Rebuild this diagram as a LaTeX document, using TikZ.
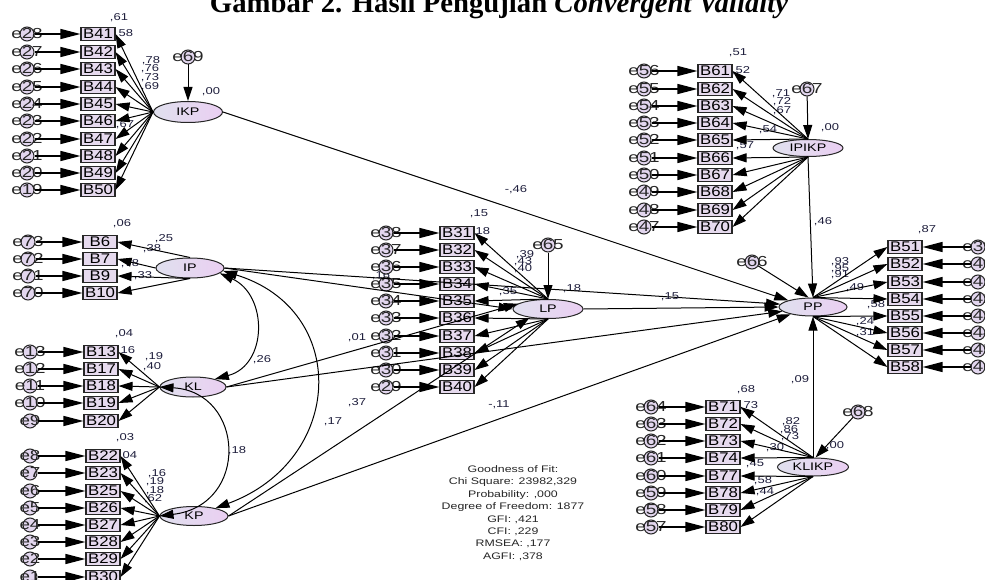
\documentclass[tikz,border=0pt]{standalone}
\usepackage{fontspec}
\setmainfont{Liberation Serif}
\newfontfamily\amos[FakeStretch=1.3]{Liberation Sans}
\newfontfamily\amosB[FakeStretch=1.2]{Liberation Sans}
\usetikzlibrary{arrows.meta,shapes.geometric}
\definecolor{latL}{HTML}{E0E0EE}
\definecolor{latR}{HTML}{EACFF2}
\definecolor{boxfill}{HTML}{E6DAEE}
\definecolor{efill}{HTML}{E2D6EE}
\definecolor{lbl}{HTML}{1E1E3C}
\begin{document}
\begin{tikzpicture}[x=1pt,y=-1pt,
  box/.style={draw=black!85, line width=1.1pt, fill=boxfill, minimum width=34pt, minimum height=12.5pt, inner sep=0pt, font=\amosB\fontsize{14}{14}\selectfont},
  lat/.style={ellipse, draw=black!85, line width=1pt, left color=latL, right color=latR, inner sep=0pt, font=\amos\fontsize{11}{11}\selectfont},
  ecirc/.style={circle, draw=black!85, line width=1pt, fill=efill, minimum size=14pt, inner sep=0pt},
  etxt/.style={font=\amos\fontsize{14.5}{14.5}\selectfont, text=black!85, inner sep=0pt},
  lab/.style={font=\amos\fontsize{10}{10}\selectfont, text=lbl, inner sep=0pt},
  arr/.style={-{Triangle[length=14pt,width=9pt]}, line width=1pt},
  harr/.style={-{Triangle[length=20pt,width=10pt]}, line width=1.3pt},
  cov/.style={{Triangle[length=14pt,width=9pt]}-{Triangle[length=14pt,width=9pt]}, line width=1pt},
  gof/.style={font=\amos\fontsize{9.5}{12.4}\selectfont, align=center, inner sep=0pt, text=black!85}
]
\useasboundingbox (0,0) rectangle (985,580);
\clip (0,0) rectangle (985,580);
\fill[white] (0,0) rectangle (985,580);

% title (cut at top)
\node[anchor=base, inner sep=0pt] (title) at (499,12.5) {\fontsize{28.7}{30}\selectfont\bfseries Gambar 2. Hasil Pengujian \itshape Convergent Validity};

% latent variables
\node[lat, minimum width=69pt, minimum height=21pt] (IKP) at (188,112) {IKP};
\node[lat, minimum width=68pt, minimum height=20pt] (IP) at (190,268) {IP};
\node[lat, minimum width=66pt, minimum height=20pt] (KL) at (193,387) {KL};
\node[lat, minimum width=68pt, minimum height=19pt] (KP) at (194,516) {KP};
\node[lat, minimum width=70pt, minimum height=19pt] (LP) at (548,309) {LP};
\node[lat, minimum width=68pt, minimum height=18pt] (PP) at (813,307) {PP};
\node[lat, minimum width=70pt, minimum height=17pt] (IPIKP) at (808,148) {IPIKP};
\node[lat, minimum width=71pt, minimum height=18pt] (KLIKP) at (813,467) {KLIKP};

% latent error terms
\foreach \n/\xx/\yy in {69/188/57, 65/548/245, 67/807/89, 68/858/412, 66/752/262} {
  \node[ecirc] (e\n) at (\xx,\yy) {};
  \node[etxt] (te\n) at (e\n) {e\n};
}

% estimate labels (drawn under the arrows)
\foreach \xx/\yy/\t [count=\i] in {
  119/18/61, 124/34/58, 151/61/78, 150/69/76, 150/78/73, 150/87/69, 125/125/67,
  122/224/06, 164/239/25, 152/249/38, 130/264/78, 143/276/33,
  124/334/04, 126/351/16, 154/357/19, 152/367/40,
  125/438/03, 128/456/04, 157/474/16, 155/482/19, 155/491/18, 153/499/62,
  479/214/15, 481/232/18, 525/255/39, 523/262/43, 523/269/40, 508/292/35, 381/276/16,
  738/53/51, 741/71/52, 781/94/71, 782/102/72, 782/111/67, 768/130/54, 745/146/57,
  746/390/68, 749/406/73, 791/422/82, 789/430/86, 790/437/73, 775/448/30, 755/464/45, 763/481/58, 765/492/44,
  927/230/87, 840/262/93, 840/269/95, 840/275/91, 855/288/49, 876/305/58, 865/322/24, 865/333/31,
  211/92/00, 572/289/18, 830/128/00, 835/446/00}
  \node[lab] (r\i) at (\xx,\yy) {,\t};

% IKP cluster
\foreach \bn/\yy/\en in {41/34/28, 42/52/27, 43/69/26, 44/87/25, 45/104/24, 46/121/23, 47/139/22, 48/156/21, 49/173/20, 50/190/19} {
  \node[box] (B\bn) at (98,\yy) {B\bn};
  \node[ecirc] (e\en) at (27,\yy) {};
  \node[etxt] (te\en) at (e\en) {e\en};
  \draw[harr] (e\en) -- (B\bn);
  \draw[arr] (IKP.west) -- (B\bn.east);
}
% IP cluster
\foreach \bn/\yy/\en/\an in {6/242/73/north, 7/259/72/west, 9/276/71/south, 10/293/70/south} {
  \node[box] (B\bn) at (100,\yy) {B\bn};
  \node[ecirc] (e\en) at (28,\yy) {};
  \node[etxt] (te\en) at (e\en) {e\en};
  \draw[harr] (e\en) -- (B\bn);
  \draw[arr] (IP.\an) -- (B\bn.east);
}
% KL cluster
\foreach \bn/\yy/\en in {13/352/13, 17/369/12, 18/386/11, 19/403/10, 20/421/9} {
  \node[box] (B\bn) at (101,\yy) {B\bn};
  \node[ecirc] (e\en) at (30,\yy) {};
  \node[etxt] (te\en) at (e\en) {e\en};
  \draw[harr] (e\en) -- (B\bn);
  \draw[arr] (KL.west) -- (B\bn.east);
}
% KP cluster
\foreach \bn/\yy/\en in {22/456/8, 23/473/7, 25/491/6, 26/508/5, 27/525/4, 28/542/3, 29/559/2, 30/577/1} {
  \node[box] (B\bn) at (103,\yy) {B\bn};
  \node[ecirc] (e\en) at (30,\yy) {};
  \node[etxt] (te\en) at (e\en) {e\en};
  \draw[harr] (e\en) -- (B\bn);
  \draw[arr] (KP.west) -- (B\bn.east);
}
% LP cluster
\foreach \bn/\yy/\en/\an in {31/233/38/north, 32/250/37/north, 33/267/36/north, 34/284/35/north, 35/301/34/north, 36/318/33/south, 37/336/32/south, 38/353/31/south, 39/370/30/south, 40/387/29/south} {
  \node[box] (B\bn) at (457,\yy) {B\bn};
  \node[ecirc] (e\en) at (386,\yy) {};
  \node[etxt] (te\en) at (e\en) {e\en};
  \draw[harr] (e\en) -- (B\bn);
  \draw[arr] (LP.\an) -- (B\bn.east);
}
% IPIKP cluster
\foreach \bn/\yy/\en/\an in {61/71/56/north, 62/89/55/north, 63/106/54/north, 64/123/53/north, 65/140/52/north, 66/158/51/south, 67/175/50/south, 68/192/49/south, 69/210/48/south, 70/227/47/south} {
  \node[box] (B\bn) at (715,\yy) {B\bn};
  \node[ecirc] (e\en) at (644,\yy) {};
  \node[etxt] (te\en) at (e\en) {e\en};
  \draw[harr] (e\en) -- (B\bn);
  \draw[arr] (IPIKP.\an) -- (B\bn.east);
}
% KLIKP cluster
\foreach \bn/\yy/\en/\an in {71/407/64/north, 72/424/63/north, 73/441/62/north, 74/458/61/north, 77/476/60/south, 78/493/59/south, 79/510/58/south, 80/527/57/south} {
  \node[box] (B\bn) at (723,\yy) {B\bn};
  \node[ecirc] (e\en) at (651,\yy) {};
  \node[etxt] (te\en) at (e\en) {e\en};
  \draw[harr] (e\en) -- (B\bn);
  \draw[arr] (KLIKP.\an) -- (B\bn.east);
}
% PP cluster
\foreach \bn/\yy/\en/\an in {51/247/39/north, 52/264/40/north, 53/282/41/north, 54/299/42/north, 55/316/43/south, 56/333/44/south, 57/350/45/south, 58/367/46/south} {
  \node[box] (B\bn) at (905,\yy) {B\bn};
  \node[ecirc] (e\en) at (978,\yy) {};
  \node[etxt] (te\en) at (e\en) {e\en};
  \draw[harr] (e\en) -- (B\bn);
  \draw[arr] (PP.\an) -- (B\bn.west);
}

% error arrows to latents
\draw[arr] (e69) -- (IKP.north);
\draw[arr] (e65) -- (LP.north);
\draw[arr] (e67) -- (IPIKP.north);
\draw[arr] (e68) -- (KLIKP.75);
\draw[arr] (e66) -- (PP.115);

% structural paths
\draw[arr] (IKP.east) -- (PP.165);
\draw[arr] (IP.east) -- (LP.west);
\draw[arr] (IP.east) -- (PP.175);
\draw[arr] (KL.east) -- (LP.170);
\draw[arr] (KL.east) -- (PP.188);
\draw[arr] (KP.east) -- (LP.205);
\draw[arr] (KP.east) -- (PP.198);
\draw[arr] (LP.east) -- (PP.west);
\draw[arr] (IPIKP.south) -- (PP.north);
\draw[arr] (KLIKP.north) -- (PP.south);

% covariances
\draw[cov] (IP.-10) .. controls (268,295) and (268,365) .. (KL.20);
\draw[cov] (KL.west) .. controls (245,392) and (250,505) .. (KP.west);
\draw[cov] (IP.-5) .. controls (350,310) and (345,460) .. (KP.20);

% path labels
\node[lab] (p1) at (516,190) {-,46};
\node[lab] (p2) at (670,297) {,15};
\node[lab] (p3) at (823,222) {,46};
\node[lab] (p4) at (800,380) {,09};
\node[lab] (p5) at (499,405) {-,11};
\node[lab] (p6) at (357,403) {,37};
\node[lab] (p7) at (333,422) {,17};
\node[lab] (p8) at (357,338) {,01};
\node[lab] (p9) at (262,360) {,26};
\node[lab] (p10) at (237,451) {,18};

% goodness of fit
\node[gof] (gof) at (513,513) {Goodness of Fit:\\Chi Square: 23982,329\\Probability: ,000\\Degree of Freedom: 1877\\GFI: ,421\\CFI: ,229\\RMSEA: ,177\\AGFI: ,378};
\end{tikzpicture}
\end{document}
